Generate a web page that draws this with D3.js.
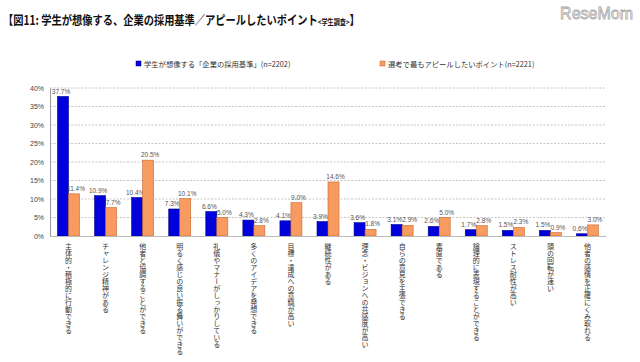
<!DOCTYPE html>
<html><head><meta charset="utf-8">
<script src="https://cdn.jsdelivr.net/npm/d3@7"></script>
<style>
body{margin:0;background:#fff;}
svg{display:block;font-family:"Noto Sans CJK JP","Noto Sans",sans-serif;}
.vlab{writing-mode:vertical-rl;}
</style></head>
<body><svg id="c" width="640" height="362"></svg>
<script>
const categories = ["主体的・積極的に行動できる","チャレンジ精神がある","他者と協調することができる","明るく感じの良い振る舞いができる","礼儀やマナーがしっかりしている","多くのアイデアを発想できる","目標・達成への意識が高い","継続性がある","理念・ビジョンへの共感度が高い","自らの意見を主張できる","素直である","論理的に表現することができる","ストレス耐性が高い","頭の回転が速い","他者の感情を正確にくみ取れる"];
const companyCriteria = [37.7,10.9,10.4,7.3,6.6,4.3,4.1,3.9,3.6,3.1,2.6,1.7,1.5,1.5,0.6];
const appealPoints = [11.4,7.7,20.5,10.1,5.0,2.8,9.0,14.6,1.8,2.9,5.0,2.8,2.3,0.9,3.0];
const yTicks = [0,5,10,15,20,25,30,35,40];
const seriesNames = ["学生が想像する「企業の採用基準」(n=2202)","選考で最もアピールしたいポイント(n=2221)"];
const titleMain = "【図11:  学生が想像する、企業の採用基準／アピールしたいポイント";
const titleSub = "<学生調査>";
const titleEnd = "】";

const svg = d3.select("#c");
const colors = ["#0000dd","#f79b60"];
const strokes = ["#00008a","#c8672c"];

// title (horizontally condensed like the original proportional gothic)
const t = svg.append("text").attr("transform","translate(3,25) scale(0.82,1)")
  .attr("font-size",12.5).attr("font-weight","bold").attr("fill","#111");
t.append("tspan").text(titleMain);
t.append("tspan").attr("font-size",7.5).text(titleSub);
t.append("tspan").text(titleEnd);

// logo
svg.append("text").attr("x",633).attr("y",19).attr("text-anchor","end")
  .attr("font-family","Liberation Sans, sans-serif").attr("font-size",16)
  .attr("fill","#fff").attr("stroke","#aaa").attr("stroke-width",0.8).text("ReseMom");

// legend
const lg = [{x:136},{x:380}];
lg.forEach((l,i)=>{
  svg.append("rect").attr("x",l.x).attr("y",61).attr("width",5).attr("height",5)
    .attr("fill",colors[i]).attr("stroke",strokes[i]).attr("stroke-width",0.5);
  svg.append("text").attr("x",l.x+8).attr("y",66.5).attr("font-size",7.3).attr("fill","#333").text(seriesNames[i]);
});

const x0 = d3.scaleBand().domain(categories).range([50,606]).padding(0);
const y = d3.scaleLinear().domain([0,40]).range([236,88]);
const bw = 11;

// gridlines
svg.append("g").selectAll("line").data(yTicks.filter(d=>d>0)).join("line")
  .attr("x1",50).attr("x2",606).attr("y1",d=>y(d)).attr("y2",d=>y(d))
  .attr("stroke","#b8b8b8").attr("stroke-width",0.8).attr("stroke-dasharray","2,1.5");

// y axis
const ya = svg.append("g").attr("transform","translate(50,0)")
  .call(d3.axisLeft(y).tickValues(yTicks).tickFormat(d=>d+"%").tickSize(0).tickPadding(6));
ya.select(".domain").attr("stroke","#999");
ya.selectAll("text").attr("font-size",7).attr("fill","#444").attr("font-family","Liberation Sans, Arial, sans-serif");

// bars
const series = [companyCriteria, appealPoints];
series.forEach((vals,si)=>{
  const g = svg.append("g");
  g.selectAll("rect").data(vals).join("rect")
    .attr("x",(d,i)=>x0(categories[i])+x0.bandwidth()/2 - bw + si*bw)
    .attr("y",d=>y(d)).attr("width",bw).attr("height",d=>y(0)-y(d))
    .attr("fill",colors[si]).attr("stroke",strokes[si]).attr("stroke-width",0.6);
  g.selectAll("text").data(vals).join("text")
    .attr("x",(d,i)=>x0(categories[i])+x0.bandwidth()/2 - bw/2 + si*bw + (si===0?-2:2))
    .attr("y",d=>y(d)-3).attr("text-anchor","middle")
    .attr("font-size",6.5).attr("fill","#555").attr("font-family","Liberation Sans, Arial, sans-serif")
    .text(d=>d.toFixed(1)+"%");
});

// x axis baseline
svg.append("line").attr("x1",50).attr("x2",606).attr("y1",236.5).attr("y2",236.5).attr("stroke","#bbb");

// category labels, vertical
svg.append("g").selectAll("text").data(categories).join("text")
  .attr("class","vlab")
  .attr("x",d=>x0(d)+x0.bandwidth()/2).attr("y",243)
  .attr("font-size",7).attr("fill","#333")
  .text(d=>d);
</script></body></html>
